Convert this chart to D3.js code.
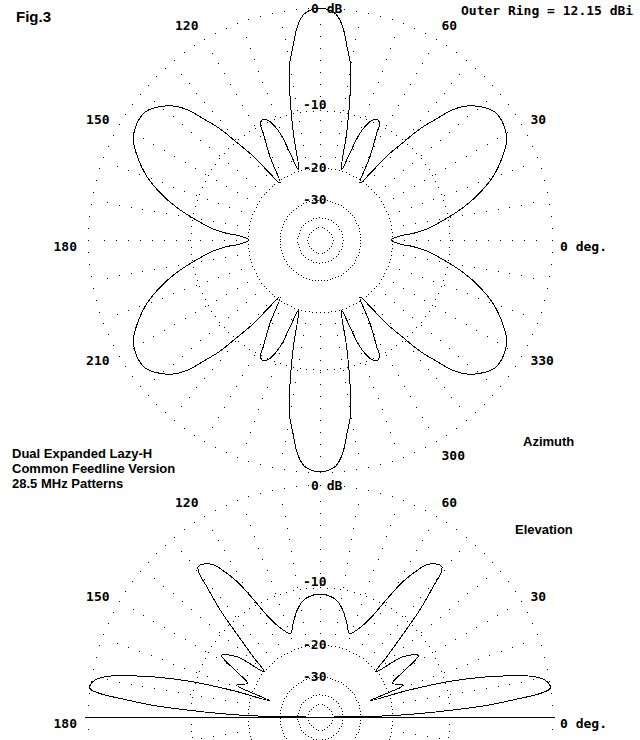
<!DOCTYPE html>
<html>
<head>
<meta charset="utf-8">
<script src="https://cdn.jsdelivr.net/npm/d3@7"></script>
<style>
body { margin: 0; background: #fff; }
.mono { font-family: "DejaVu Sans Mono", monospace; font-weight: bold; font-size: 13px; }
.sans { font-family: "Liberation Sans", Arial, sans-serif; font-weight: bold; font-size: 13px; }
</style>
</head>
<body>
<script>
// azimuth pattern, degrees (0 = right, counter-clockwise) and dB below outer ring
var azAngles = [0,3,4,6,9,12,15.5,20,24.5,28,31.5,34.5,36.5,40,42.5,44.5,46,48,49.5,51.5,53,55,59,62,63,65,67,69.5,71,73,76,78,80,82,84,86,88,
    90,92,94,96,98,100,102,104,107,109,110.5,113,115,117,118,121,125,127,128.5,130.5,132,134,135.5,137.5,140,143.5,145.5,148.5,152,155.5,160,164.5,168,171,174,176,177,
    180,183,184,186,189,192,195.5,200,204.5,208,211.5,214.5,216.5,220,222.5,224.5,226,228,229.5,231.5,233,235,239,242,243,245,247,249.5,251,253,256,258,260,262,264,266,268,
    270,272,274,276,278,280,282,284,287,289,290.5,293,295,297,298,301,305,307,308.5,310.5,312,314,315.5,317.5,320,323.5,325.5,328.5,332,335.5,340,344.5,348,351,354,356,357];
var azGains = [-20.3,-18.1,-15.7,-13.1,-10.7,-8.4,-6.2,-4.0,-2.5,-1.6,-1.2,-1.1,-1.2,-1.9,-2.7,-3.8,-5.4,-7.5,-10.1,-13.3,-17.6,-20.7,-15.0,-11.2,-9.8,-9.5,-10.1,-12.2,-15.9,-19.8,-12.8,-8.3,-4.7,-3.0,-1.3,-0.4,-0.1,
    0,-0.1,-0.4,-1.3,-3.0,-4.7,-8.3,-12.8,-19.8,-15.9,-12.2,-10.1,-9.5,-9.8,-11.2,-15.0,-20.7,-17.6,-13.3,-10.1,-7.5,-5.4,-3.8,-2.7,-1.9,-1.2,-1.1,-1.2,-1.6,-2.5,-4.0,-6.2,-8.4,-10.7,-13.1,-15.7,-18.1,
    -20.3,-18.1,-15.7,-13.1,-10.7,-8.4,-6.2,-4.0,-2.5,-1.6,-1.2,-1.1,-1.2,-1.9,-2.7,-3.8,-5.4,-7.5,-10.1,-13.3,-17.6,-20.7,-15.0,-11.2,-9.8,-9.5,-10.1,-12.2,-15.9,-19.8,-12.8,-8.3,-4.7,-3.0,-1.3,-0.4,-0.1,
    0,-0.1,-0.4,-1.3,-3.0,-4.7,-8.3,-12.8,-19.8,-15.9,-12.2,-10.1,-9.5,-9.8,-11.2,-15.0,-20.7,-17.6,-13.3,-10.1,-7.5,-5.4,-3.8,-2.7,-1.9,-1.2,-1.1,-1.2,-1.6,-2.5,-4.0,-6.2,-8.4,-10.7,-13.1,-15.7,-18.1];

// elevation pattern, 0 to 180 degrees
var elAngles = [0,1,2,3,4,5.3,6.1,7.1,9,10.7,12.4,13.9,15.2,16.2,17,18,21,25,28,32,36,39,42,45,47,49,50,51,52.5,55,56,58.5,60.5,63,67,70.5,74,78,82,87,
    90,93,98,102,106,109.5,113,117,119.5,121.5,124,125,127.5,129,130,131,133,135,138,141,144,148,152,155,159,162,163,163.8,164.8,166.1,167.6,169.3,171,172.9,173.9,174.7,176,177,178,179,180];
var elGains = [-48,-21.4,-14.4,-9.5,-5.6,-2.5,-0.8,0,-0.2,-1.1,-3.3,-5.9,-8.9,-12.6,-16.8,-25.5,-16.4,-18.3,-16,-11.9,-14,-20.1,-16.3,-11.6,-7.9,-5.1,-3.6,-3.1,-3.2,-3.8,-4.4,-6.5,-9.3,-12.7,-15.4,-16.5,-14.9,-12.9,-11.6,-11.0,
    -10.9,-11.0,-11.6,-12.9,-14.9,-16.5,-15.4,-12.7,-9.3,-6.5,-4.4,-3.8,-3.2,-3.1,-3.6,-5.1,-7.9,-11.6,-16.3,-20.1,-14,-11.9,-16,-18.3,-16.4,-25.5,-16.8,-12.6,-8.9,-5.9,-3.3,-1.1,-0.2,0,-0.8,-2.5,-5.6,-9.5,-14.4,-21.4,-48];

var ringLevels = [0, -10, -20, -30, -40, -50];
var ringLabels = ["0 dB", "-10", "-20", "-30"];
var azTicks = [0, 30, 60, 120, 150, 180, 210, 300, 330];
var elTicks = [0, 30, 60, 120, 150, 180];
var outerRing = "12.15";
var titleLines = ["Dual Expanded Lazy-H", "Common Feedline Version", "28.5 MHz Patterns"];

var w = 640, h = 740, R = 232;
var svg = d3.select("body").append("svg")
    .attr("width", w)
    .attr("height", h);

// ARRL log scale: radius shrinks 0.89 for every 2 dB, i.e. power^0.253
var rScale = d3.scalePow()
    .exponent(-5 * Math.log10(0.89))
    .domain([0, 1])
    .range([0, R]);
function r(db) { return rScale(Math.pow(10, db / 10)); }

// compass degrees (ccw from right) -> d3 radial angle (cw from top)
var angle = d3.scaleLinear().domain([0, 360]).range([Math.PI / 2, Math.PI / 2 - 2 * Math.PI]);
function px(deg, rad) { return rad * Math.sin(angle(deg)); }
function py(deg, rad) { return -rad * Math.cos(angle(deg)); }

function drawGrid(g) {
    var dots = [];
    ringLevels.forEach(function(lv) {
        var rr = r(lv);
        var step = Math.max(3, rr * 3 * Math.PI / 180);
        var n = Math.round(2 * Math.PI * rr / step);
        for (var i = 0; i < n; i++) {
            dots.push([px(i * 360 / n, rr), py(i * 360 / n, rr)]);
        }
    });
    for (var a = 0; a < 360; a += 10) {
        for (var d = r(-20) + 12; d < R - 4; d += 12) {
            dots.push([px(a, d), py(a, d)]);
        }
    }
    g.selectAll("rect.dot")
        .data(dots)
        .enter()
        .append("rect")
        .attr("class", "dot")
        .attr("x", function(d) { return Math.round(d[0]); })
        .attr("y", function(d) { return Math.round(d[1]); })
        .attr("width", 1)
        .attr("height", 1)
        .attr("fill", "#000");
}

function drawLabels(g, ticks) {
    g.selectAll("text.ring")
        .data(ringLabels)
        .enter()
        .append("text")
        .attr("class", "mono ring")
        .attr("x", function(d, i) { return i == 0 ? -9 : -17; })
        .attr("y", function(d, i) { return -r(ringLevels[i]) + (i == 1 ? -1.5 : 4.5); })
        .text(function(d) { return d; });

    // right side labels hang from their left end, left side from their right end,
    // and they sit a little in toward the horizontal axis
    g.selectAll("text.tick")
        .data(ticks)
        .enter()
        .append("text")
        .attr("class", "mono tick")
        .attr("text-anchor", function(d) { return Math.cos(d * Math.PI / 180) < -0.01 ? "end" : "start"; })
        .attr("x", function(d) { return px(d, 243) + (d == 0 ? -3 : 0); })
        .attr("y", function(d) {
            var c = Math.cos(d * Math.PI / 180), s = Math.sin(d * Math.PI / 180);
            return py(d, 250) + (s < -0.01 ? -6 : 6) * c * c + 4.5;
        })
        .text(function(d) { return d == 0 ? "0 deg." : d; });
}

var line = d3.lineRadial()
    .angle(function(d) { return angle(d[0]); })
    .radius(function(d) { return r(d[1]); })
    .curve(d3.curveCatmullRomClosed.alpha(0.5));

// azimuth plot
var az = svg.append("g").attr("transform", "translate(320,240)");
drawGrid(az);
az.append("path")
    .datum(azAngles.map(function(a, i) { return [a, azGains[i]]; }))
    .attr("d", line)
    .attr("fill", "none")
    .attr("stroke", "#000")
    .attr("stroke-width", 1)
    .attr("shape-rendering", "crispEdges");
drawLabels(az, azTicks);

// elevation plot
var el = svg.append("g").attr("transform", "translate(320,717)");
drawGrid(el);
el.append("line")
    .attr("x1", -R - 3).attr("x2", R + 3)
    .attr("y1", 0.5).attr("y2", 0.5)
    .attr("stroke", "#000");
el.append("path")
    .datum(elAngles.map(function(a, i) { return [a, elGains[i]]; }))
    .attr("d", line.curve(d3.curveCatmullRom.alpha(0.5)))
    .attr("fill", "none")
    .attr("stroke", "#000")
    .attr("stroke-width", 1)
    .attr("shape-rendering", "crispEdges");
drawLabels(el, elTicks);

// texts
svg.append("text").attr("class", "sans").attr("x", 16).attr("y", 22)
    .style("font-size", "15px").text("Fig.3");
svg.append("text").attr("class", "mono").attr("x", 461).attr("y", 15)
    .text("Outer Ring = " + outerRing + " dBi");
svg.selectAll("text.title")
    .data(titleLines)
    .enter()
    .append("text")
    .attr("class", "sans title")
    .attr("x", 12)
    .attr("y", function(d, i) { return 458 + i * 15; })
    .text(function(d) { return d; });
svg.append("text").attr("class", "sans").attr("x", 523).attr("y", 446).text("Azimuth");
svg.append("text").attr("class", "sans").attr("x", 515).attr("y", 534).text("Elevation");
</script>
</body>
</html>
